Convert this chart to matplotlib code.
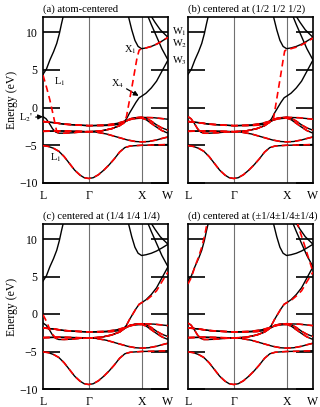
import matplotlib.pyplot as plt

plt.rcParams['font.family'] = ['Liberation Serif', 'DejaVu Serif']
plt.rcParams['mathtext.fontset'] = 'stix'

# high-symmetry points along the path (k in units of 2pi/a)
k_points = [0.0, 0.866, 1.866, 2.366]
k_labels = ['L', 'Γ', 'X', 'W']

# reference (black) bands: lists of (k, E) in eV
s_band = [(0, -5.05), (0.1, -5.15), (0.2, -5.4), (0.3, -5.8), (0.4, -6.5), (0.5, -7.4),
          (0.6, -8.3), (0.7, -8.95), (0.78, -9.3), (0.866, -9.4), (0.95, -9.3), (1.05, -8.9),
          (1.15, -8.3), (1.25, -7.6), (1.35, -6.8), (1.45, -5.9), (1.55, -5.3), (1.65, -5.1),
          (1.75, -5.05), (1.866, -5.0), (2.0, -4.98), (2.15, -4.95), (2.366, -4.9)]
d_band1 = [(0, -3.15), (0.3, -3.1), (0.6, -3.15), (0.866, -3.2), (1.0, -3.25), (1.2, -3.5),
           (1.4, -3.9), (1.6, -4.3), (1.75, -4.5), (1.866, -4.55), (2.0, -4.5), (2.15, -4.3),
           (2.25, -4.1), (2.366, -3.9)]
d_band2 = [(0, -1.2), (0.06, -1.5), (0.12, -2.1), (0.18, -2.8), (0.24, -3.25), (0.30, -3.4),
           (0.40, -3.4), (0.55, -3.35), (0.7, -3.25), (0.866, -3.2), (1.1, -3.1), (1.3, -2.8),
           (1.45, -2.4), (1.55, -1.9), (1.65, -1.5), (1.75, -1.35), (1.866, -1.3), (2.1, -1.35),
           (2.366, -1.55)]
d_band3 = [(0, -1.85), (0.2, -2.0), (0.4, -2.2), (0.6, -2.3), (0.866, -2.4), (1.1, -2.4),
           (1.3, -2.35), (1.45, -2.2), (1.52, -2.0), (1.58, -1.5), (1.64, -0.7), (1.70, 0.0),
           (1.76, 0.7), (1.82, 1.3), (1.866, 1.5), (1.95, 1.9), (2.05, 2.6), (2.15, 3.5),
           (2.25, 4.8), (2.366, 6.3)]
d_band4 = [(0, -1.85), (0.2, -2.0), (0.4, -2.2), (0.6, -2.3), (0.866, -2.4), (1.2, -2.3),
           (1.4, -2.1), (1.55, -1.8), (1.7, -1.5), (1.866, -1.4), (1.95, -1.6), (2.05, -2.1),
           (2.15, -2.6), (2.25, -3.05), (2.366, -3.4)]
d_band5 = [(0, -3.15), (0.3, -3.1), (0.6, -3.15), (0.866, -3.2), (1.1, -3.1), (1.3, -2.8),
           (1.45, -2.4), (1.55, -1.9), (1.65, -1.5), (1.75, -1.35), (1.866, -1.3), (1.95, -1.4),
           (2.05, -1.8), (2.15, -2.3), (2.25, -2.7), (2.366, -3.0)]
c_band_L = [(0, 4.4), (0.065, 5.1), (0.13, 6.3), (0.2, 7.4), (0.26, 8.5), (0.31, 9.8),
            (0.35, 11.1), (0.39, 12.3), (0.42, 13.2)]
c_band_X1 = [(1.58, 13.0), (1.62, 12.0), (1.68, 10.3), (1.74, 8.9), (1.80, 8.1), (1.866, 7.8),
             (1.95, 7.9), (2.05, 8.1), (2.15, 8.4), (2.25, 8.8), (2.366, 9.3)]
c_band_W3 = [(1.94, 13.0), (1.98, 12.2), (2.05, 11.0), (2.15, 9.4), (2.25, 7.8), (2.366, 6.3)]
c_band_W1 = [(1.99, 13.0), (2.03, 12.3), (2.12, 11.3), (2.22, 10.3), (2.366, 9.3)]

black_bands = [s_band, d_band1, d_band2, d_band3, d_band4, d_band5,
               c_band_L, c_band_X1, c_band_W3, c_band_W1]

# Wannier-interpolated (red dashed) bands that differ between panels
red_a_up = [(0, -1.85), (0.2, -2.0), (0.4, -2.2), (0.6, -2.3), (0.866, -2.4), (1.1, -2.4),
            (1.3, -2.35), (1.45, -2.25), (1.53, -2.1), (1.58, -1.2), (1.63, 0.7), (1.68, 2.6),
            (1.73, 4.6), (1.78, 6.6), (1.82, 7.6), (1.866, 7.8), (1.95, 7.9), (2.05, 8.1),
            (2.15, 8.4), (2.25, 8.8), (2.366, 9.3)]
red_a_L = [(0, 4.3), (0.07, 2.6), (0.13, 1.0), (0.2, -1.2), (0.26, -3.2), (0.30, -3.4),
           (0.40, -3.4), (0.55, -3.35), (0.7, -3.25), (0.866, -3.2), (1.1, -3.1), (1.3, -2.8),
           (1.45, -2.4), (1.55, -1.9), (1.65, -1.5), (1.75, -1.35), (1.866, -1.3), (2.1, -1.35),
           (2.366, -1.55)]
red_b_up = [(0, -1.85), (0.2, -2.0), (0.4, -2.2), (0.6, -2.3), (0.866, -2.4), (1.1, -2.4),
            (1.3, -2.35), (1.5, -2.1), (1.58, -1.9), (1.62, -1.4), (1.66, 0.3), (1.70, 2.0),
            (1.75, 4.1), (1.80, 6.3), (1.83, 7.5), (1.866, 7.65), (1.95, 7.8), (2.05, 8.0),
            (2.15, 8.3), (2.25, 8.7), (2.366, 9.2)]
red_c_L = [(0, -0.1), (0.06, -0.9), (0.12, -1.9), (0.18, -2.7), (0.24, -3.2), (0.30, -3.35),
           (0.40, -3.4), (0.55, -3.35), (0.7, -3.25), (0.866, -3.2), (1.1, -3.1), (1.3, -2.8),
           (1.45, -2.4), (1.55, -1.9), (1.65, -1.5), (1.75, -1.35), (1.866, -1.3), (2.1, -1.35),
           (2.366, -1.55)]
red_cd_up = [(0, -1.85), (0.2, -2.0), (0.4, -2.2), (0.6, -2.3), (0.866, -2.4), (1.1, -2.4),
             (1.3, -2.35), (1.45, -2.2), (1.52, -2.0), (1.58, -1.5), (1.64, -0.7), (1.70, 0.0),
             (1.76, 0.7), (1.82, 1.3), (1.866, 1.5), (1.95, 1.8), (2.05, 2.4), (2.15, 3.1),
             (2.25, 4.3), (2.366, 5.6)]
red_d_L = [(0, 4.0), (0.065, 4.9), (0.13, 6.3), (0.2, 7.6), (0.26, 8.9), (0.31, 10.3),
           (0.35, 11.7), (0.38, 12.5)]
red_d_W = [(2.06, 12.4), (2.12, 11.0), (2.2, 9.3), (2.28, 7.5), (2.366, 5.6)]

red_common = [s_band, d_band1, d_band4, d_band5]
red_panels = {
    'a': red_common + [red_a_up, red_a_L],
    'b': red_common + [red_b_up, d_band2],
    'c': red_common + [red_cd_up, red_c_L],
    'd': red_common + [red_cd_up, d_band2, red_d_L, red_d_W],
}
titles = {
    'a': '(a) atom-centered',
    'b': '(b) centered at (1/2 1/2 1/2)',
    'c': '(c) centered at (1/4 1/4 1/4)',
    'd': '(d) centered at (±1/4±1/4±1/4)',
}
yticks = [-10, -5, 0, 5, 10]

fig = plt.figure(figsize=(3.2, 4.07), dpi=100)
W, H = 320, 407
boxes = {'a': (43, 17, 125, 166), 'b': (188, 17, 125, 166),
         'c': (43, 224, 125, 165), 'd': (188, 224, 125, 165)}

axes = {}
for key, (x0, y0, w, h) in boxes.items():
    ax = fig.add_axes([x0 / W, 1 - (y0 + h) / H, w / W, h / H])
    axes[key] = ax
    for band in black_bands:
        ks, es = zip(*band)
        ax.plot(ks, es, color='black', lw=1.0, zorder=3)
    for band in red_panels[key]:
        ks, es = zip(*band)
        ax.plot(ks, es, color='#ff0000', lw=1.2, ls=(0, (4, 2.5)), zorder=4)
    for kp in k_points[1:3]:
        ax.axvline(kp, color='#707070', lw=0.8, zorder=1)
    ax.set_xlim(k_points[0], k_points[-1])
    ax.set_ylim(-10, 12)
    ax.set_xticks(k_points)
    ax.set_xticklabels(k_labels, fontsize=8.5)
    ax.tick_params(axis='x', length=0, pad=5)
    ax.set_yticks(yticks)
    ax.tick_params(axis='y', direction='in', length=12, width=1.2,
                   left=True, right=True, labelsize=8.5, pad=4)
    if key in ('b', 'd'):
        ax.set_yticklabels([])
    else:
        ax.set_ylabel('Energy (eV)', fontsize=8.5, labelpad=1)
    for sp in ax.spines.values():
        sp.set_linewidth(1.2)
    ax.set_title(titles[key], fontsize=7.7, loc='left', pad=4)

ax = axes['a']
txt = dict(fontsize=7.5, color='black')
ax.text(0.2, 3.4, 'L$_1$', ha='left', va='center', **txt)
ax.text(0.14, -6.7, 'L$_1$', ha='left', va='center', **txt)
ax.text(1.53, 7.6, 'X$_1$', ha='left', va='center', **txt)
ax.annotate('X$_4$', xy=(1.81, 1.55), xytext=(1.28, 3.2), ha='left', va='center',
            arrowprops=dict(arrowstyle='-|>', color='black', lw=0.9, mutation_scale=7,
                            shrinkA=0, shrinkB=0), **txt)
ax.annotate("L$_2$'", xy=(0.0, -1.2), xytext=(-0.19, -1.35), ha='right', va='center',
            annotation_clip=False,
            arrowprops=dict(arrowstyle='-|>', color='black', lw=0.9, mutation_scale=7,
                            shrinkA=0, shrinkB=0), **txt)
for lab, e in [('W$_1$', 10.1), ('W$_2$', 8.4), ('W$_3$', 6.2)]:
    ax.text(2.44, e, lab, ha='left', va='center', clip_on=False, **txt)

fig.savefig('out.png', dpi=100)
